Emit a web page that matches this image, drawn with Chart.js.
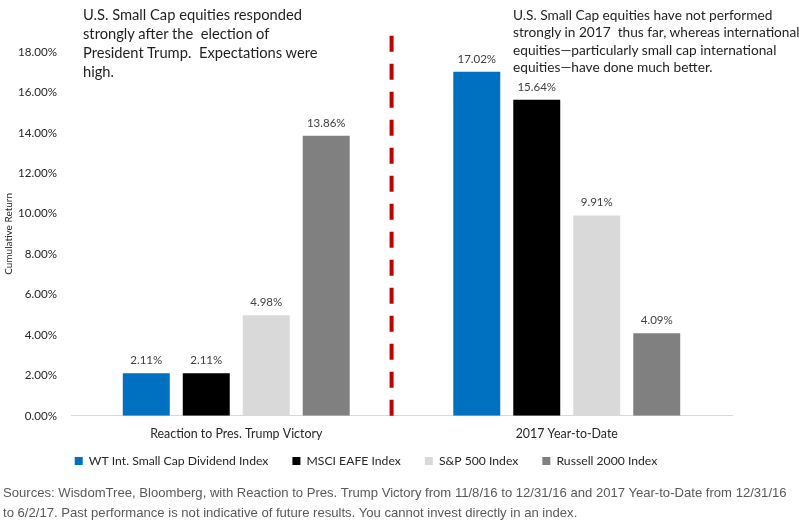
<!DOCTYPE html>
<html>
<head>
<meta charset="utf-8">
<script src="https://cdn.jsdelivr.net/npm/chart.js@4/dist/chart.umd.min.js"></script>
<style>
  html, body { margin: 0; padding: 0; background: #fff; }
  #wrap { position: relative; width: 799px; height: 531px; overflow: hidden; }
  #chart { position: absolute; left: 0; top: 0; }
  .note { position: absolute; font-family: Lato, sans-serif; color: #1f1f1f; white-space: nowrap; }
  #noteLeft { left: 83px; top: 5px; font-size: 14.7px; line-height: 19px; }
  #noteRight { left: 513px; top: 6px; font-size: 13.7px; line-height: 17.3px; }
  #source { position: absolute; left: 3px; top: 483px; font-family: "Liberation Sans", Arial, sans-serif;
            font-size: 13.1px; line-height: 20px; color: #595959; white-space: nowrap; }
</style>
</head>
<body>
<div id="wrap">
  <canvas id="chart" width="799" height="531"></canvas>
  <div class="note" id="noteLeft">U.S. Small Cap equities responded<br>strongly after the&nbsp; election of<br>President Trump.&nbsp; Expectations were<br>high.</div>
  <div class="note" id="noteRight">U.S. Small Cap equities have not performed<br>strongly in 2017&nbsp; thus far, whereas international<br>equities—particularly small cap international<br>equities—have done much better.</div>
  <div id="source">Sources: WisdomTree, Bloomberg, with Reaction to Pres. Trump Victory from 11/8/16 to 12/31/16 and 2017 Year-to-Date from 12/31/16<br>to 6/2/17. Past performance is not indicative of future results. You cannot invest directly in an index.</div>
</div>
<script>
// periods on the x axis
const periods = ['Reaction to Pres. Trump Victory', '2017 Year-to-Date'];

// cumulative return in %, one array per index
const wtSmallCapDiv = [2.11, 17.02];
const msciEafe = [2.11, 15.64];
const sp500 = [4.98, 9.91];
const russell2000 = [13.86, 4.09];

const yTicks = [0, 2, 4, 6, 8, 10, 12, 14, 16, 18];

const FONT = 'Lato, sans-serif';
const TXT = '#404040';

// value above every bar
const barLabels = {
  id: 'barLabels',
  afterDatasetsDraw(chart) {
    const ctx = chart.ctx;
    ctx.save();
    ctx.font = '11.5px ' + FONT;
    ctx.fillStyle = TXT;
    ctx.textAlign = 'center';
    ctx.textBaseline = 'bottom';
    chart.data.datasets.forEach((ds, i) => {
      chart.getDatasetMeta(i).data.forEach((bar, j) => {
        ctx.fillText(ds.data[j].toFixed(2) + '%', bar.x, bar.y - 7);
      });
    });
    ctx.restore();
  }
};

// category names under the axis (the axis box is kept thin so the legend sits close)
const periodLabels = {
  id: 'periodLabels',
  afterDraw(chart) {
    const xs = chart.scales.x;
    const ctx = chart.ctx;
    ctx.save();
    ctx.font = '12.4px ' + FONT;
    ctx.fillStyle = '#262626';
    ctx.textAlign = 'center';
    ctx.textBaseline = 'middle';
    chart.data.labels.forEach((lab, i) => {
      ctx.fillText(lab, xs.getPixelForValue(i), xs.top + 18);
    });
    ctx.restore();
  }
};

// red dashed separator between the two periods
const separator = {
  id: 'separator',
  afterDatasetsDraw(chart) {
    const x = chart.scales.x.getPixelForValue(0.47);
    const y0 = chart.scales.y.getPixelForValue(18.8);
    const y1 = chart.scales.y.getPixelForValue(0);
    const ctx = chart.ctx;
    ctx.save();
    ctx.strokeStyle = '#C00000';
    ctx.lineWidth = 4;
    ctx.setLineDash([16, 12]);
    ctx.beginPath();
    ctx.moveTo(x, y0);
    ctx.lineTo(x, y1);
    ctx.stroke();
    ctx.restore();
  }
};

function makeSet(label, data, color) {
  return {
    label: label,
    data: data,
    backgroundColor: color,
    borderWidth: 0,
    barPercentage: 0.783,
    categoryPercentage: 0.726
  };
}

new Chart(document.getElementById('chart'), {
  type: 'bar',
  data: {
    labels: periods,
    datasets: [
      makeSet('WT Int. Small Cap Dividend Index', wtSmallCapDiv, '#0070C0'),
      makeSet('MSCI EAFE Index', msciEafe, '#000000'),
      makeSet('S&P 500 Index', sp500, '#D9D9D9'),
      makeSet('Russell 2000 Index', russell2000, '#808080')
    ]
  },
  options: {
    responsive: false,
    animation: false,
    layout: { padding: { top: 52, right: 67, bottom: 54, left: 0 } },
    plugins: {
      tooltip: { enabled: false },
      legend: {
        position: 'bottom',
        labels: {
          font: { family: FONT, size: 12.2 },
          color: '#262626',
          boxWidth: 8,
          boxHeight: 8,
          padding: 24
        }
      }
    },
    scales: {
      x: {
        grid: { display: false },
        border: { color: '#D9D9D9', width: 1 },
        ticks: { display: false },
        afterFit(axis) { axis.height = 15; }
      },
      y: {
        min: 0,
        max: 18,
        afterBuildTicks(axis) { axis.ticks = yTicks.map(v => ({ value: v })); },
        afterFit(axis) { axis.width = 71; },
        grid: { display: false },
        border: { display: false },
        title: {
          display: true,
          text: 'Cumulative Return',
          font: { family: FONT, size: 10 },
          color: '#262626',
          padding: { top: 3, bottom: 4 }
        },
        ticks: {
          font: { family: FONT, size: 11.6 },
          color: '#262626',
          padding: 6,
          callback: v => v.toFixed(2) + '%'
        }
      }
    }
  },
  plugins: [barLabels, separator, periodLabels]
});
</script>
</body>
</html>
